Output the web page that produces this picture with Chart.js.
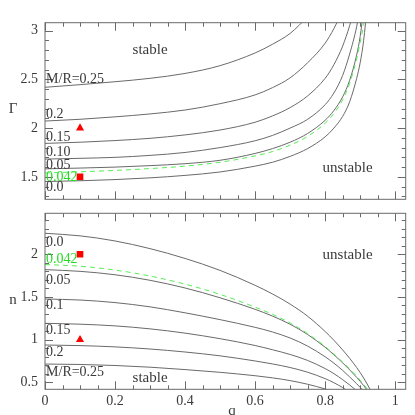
<!DOCTYPE html>
<html>
<head>
<meta charset="utf-8">
<script src="https://cdn.jsdelivr.net/npm/chart.js@4/dist/chart.umd.min.js"></script>
<style>
html, body { margin: 0; padding: 0; background: #fff; }
#wrap { position: relative; width: 415px; height: 415px; }
#wrap canvas { position: absolute; left: 0; }
#top { top: 0; }
#bot { top: 207px; }
</style>
</head>
<body>
<div id="wrap">
  <canvas id="top" width="415" height="207"></canvas>
  <canvas id="bot" width="415" height="208"></canvas>
</div>
<script>
// q values shared by every curve
var qGrid = [0, 0.1, 0.2, 0.3, 0.4, 0.5, 0.6, 0.65, 0.7, 0.75, 0.8, 0.825, 0.85, 0.87, 0.89, 0.9, 0.91, 0.92, 0.93, 0.94];

// upper panel: Gamma(q) for each M/R
var gamma00  = [1.452, 1.46, 1.472, 1.49, 1.515, 1.55, 1.61, 1.65, 1.71, 1.79, 1.91, 2.0, 2.12, 2.27, 2.51, 2.67, 2.90, 3.25, null, null];
var gamma042 = [1.540, 1.552, 1.566, 1.585, 1.61, 1.65, 1.715, 1.76, 1.825, 1.915, 2.05, 2.15, 2.29, 2.46, 2.71, 2.88, 3.06, 3.30, null, null];
var gamma05  = [1.582, 1.59, 1.60, 1.615, 1.635, 1.67, 1.74, 1.79, 1.855, 1.945, 2.08, 2.18, 2.32, 2.49, 2.75, 2.94, 3.22, null, null, null];
var gamma10  = [1.682, 1.69, 1.70, 1.72, 1.75, 1.80, 1.87, 1.925, 2.0, 2.09, 2.24, 2.36, 2.54, 2.76, 3.04, 3.25, null, null, null, null];
var gamma15  = [1.843, 1.855, 1.872, 1.895, 1.93, 1.98, 2.06, 2.125, 2.21, 2.33, 2.51, 2.65, 2.84, 3.05, 3.30, null, null, null, null, null];
var gamma20  = [2.072, 2.09, 2.115, 2.145, 2.185, 2.25, 2.34, 2.415, 2.515, 2.67, 2.87, 3.02, 3.20, null, null, null, null, null, null, null];
var gamma25  = [2.418, 2.445, 2.475, 2.51, 2.56, 2.64, 2.77, 2.86, 2.97, 3.14, null, null, null, null, null, null, null, null, null, null];

// lower panel: n(q) for each M/R
var n00  = [2.246, 2.216, 2.156, 2.066, 1.951, 1.811, 1.636, 1.534, 1.416, 1.274, 1.095, 0.992, 0.879, 0.781, 0.673, 0.614, 0.550, 0.480, 0.404, 0.320];
var n042 = [1.88, 1.86, 1.815, 1.745, 1.65, 1.53, 1.38, 1.295, 1.195, 1.07, 0.92, 0.83, 0.737, 0.657, 0.571, 0.525, 0.476, 0.424, 0.369, 0.31];
var n05  = [1.82, 1.80, 1.76, 1.695, 1.605, 1.49, 1.355, 1.275, 1.18, 1.06, 0.91, 0.823, 0.728, 0.646, 0.558, 0.511, 0.461, 0.408, 0.352, null];
var n10  = [1.476, 1.464, 1.434, 1.384, 1.314, 1.234, 1.144, 1.089, 1.019, 0.924, 0.799, 0.724, 0.639, 0.563, 0.483, 0.44, 0.394, 0.345, null, null];
var n15  = [1.191, 1.181, 1.161, 1.126, 1.076, 1.011, 0.931, 0.881, 0.826, 0.756, 0.661, 0.601, 0.531, 0.469, 0.401, 0.364, null, null, null, null];
var n20  = [0.937, 0.930, 0.915, 0.89, 0.855, 0.81, 0.75, 0.715, 0.673, 0.618, 0.543, 0.495, 0.438, 0.384, null, null, null, null, null, null];
var n25  = [0.714, 0.709, 0.697, 0.677, 0.649, 0.617, 0.577, 0.552, 0.52, 0.477, 0.422, 0.388, null, null, null, null, null, null, null, null];

var topNames = ['0.0', '0.042', '0.05', '0.10', '0.15', '0.2', 'M/R=0.25'];
var botNames = ['0.0', '0.042', '0.05', '0.1', '0.15', '0.2', 'M/R=0.25'];

// the two red models
var markerQ = [0.1, 0.1];
var triangleGamma = 2.0, squareGamma = 1.5;
var triangleN = 1.0, squareN = 2.0;

var GRAY = '#6a6a6a';
var GREEN = '#55ee55';
var TXT = '#3a3a3a';
var SERIF = '"Liberation Serif", "DejaVu Serif", serif';

function pts(arr) {
    return qGrid.map(function(q, i){ return {x: q, y: arr[i]}; });
}

function curveSet(arr, name) {
    var green = name == '0.042';
    return {
        type: 'line', label: name, data: pts(arr),
        borderColor: green ? GREEN : GRAY, borderWidth: 1,
        borderDash: green ? [5, 4] : [],
        pointRadius: 0, cubicInterpolationMode: 'monotone', spanGaps: false
    };
}

function markerSet(x, y, style) {
    return {
        type: 'scatter', label: style, data: [{x: x, y: y}],
        pointStyle: style, pointRadius: 4.7, pointHoverRadius: 4.7,
        backgroundColor: '#ff0000', borderColor: '#ff0000', borderWidth: 0
    };
}

function isMult(v, step) {
    var r = v / step;
    return Math.abs(r - Math.round(r)) < 1e-6;
}

// frame with inward ticks on all four sides, taken from the scales
var frameTicks = {
    id: 'frameTicks',
    afterDraw: function(chart) {
        var ctx = chart.ctx, a = chart.chartArea;
        var xs = chart.scales.x, ys = chart.scales.y;
        ctx.save();
        ctx.strokeStyle = GRAY;
        ctx.lineWidth = 1;
        ctx.strokeRect(a.left, a.top, a.right - a.left, a.bottom - a.top);
        ctx.beginPath();
        xs.ticks.forEach(function(t){
            var px = Math.round(xs.getPixelForValue(t.value)) + 0.5;
            var len = isMult(t.value, 0.2) ? 8 : 4;
            ctx.moveTo(px, a.bottom); ctx.lineTo(px, a.bottom - len);
            ctx.moveTo(px, a.top); ctx.lineTo(px, a.top + len);
        });
        ys.ticks.forEach(function(t){
            var py = Math.round(ys.getPixelForValue(t.value)) + 0.5;
            var len = isMult(t.value, 0.5) ? 8 : 4;
            ctx.moveTo(a.left, py); ctx.lineTo(a.left + len, py);
            ctx.moveTo(a.right, py); ctx.lineTo(a.right - len, py);
        });
        ctx.stroke();
        ctx.restore();
    }
};

// free text: axis titles, region names and curve labels
var notes = {
    id: 'notes',
    afterDraw: function(chart) {
        var ctx = chart.ctx, o = chart.options.plugins.notes;
        var xs = chart.scales.x, ys = chart.scales.y;
        ctx.save();
        ctx.textBaseline = 'middle';
        o.items.forEach(function(it){
            ctx.font = (it.size || 14) + 'px ' + SERIF;
            ctx.fillStyle = it.color || TXT;
            ctx.textAlign = it.align || 'center';
            var x = it.px != null ? it.px : xs.getPixelForValue(it.q);
            var y = it.py != null ? it.py : ys.getPixelForValue(it.v);
            ctx.fillText(it.text, x, y);
        });
        ctx.restore();
    }
};

function noPad(s) {
    s.paddingTop = 0; s.paddingBottom = 0; s.paddingLeft = 0; s.paddingRight = 0;
}

function scales(yMin, yMax, showX, xHeight) {
    return {
        x: {
            type: 'linear', min: 0, max: 1.03,
            grid: { display: false, drawTicks: false },
            border: { display: false },
            ticks: {
                stepSize: 0.05, includeBounds: false, autoSkip: false, maxRotation: 0,
                padding: 4, color: TXT, font: { family: SERIF, size: 14 },
                callback: function(v){ return showX && isMult(v, 0.2) ? String(Math.round(v * 10) / 10) : ''; }
            },
            afterFit: function(s){ s.height = xHeight; noPad(s); }
        },
        y: {
            type: 'linear', min: yMin, max: yMax,
            grid: { display: false, drawTicks: false },
            border: { display: false },
            ticks: {
                stepSize: 0.1, includeBounds: false, autoSkip: false,
                padding: 7, color: TXT, font: { family: SERIF, size: 14 },
                callback: function(v){ return isMult(v, 0.5) ? String(Math.round(v * 10) / 10) : ''; }
            },
            afterFit: function(s){ s.width = 45; noPad(s); }
        }
    };
}

var labelGamma = [1.397, 1.5, 1.623, 1.751, 1.908, 2.143, 2.50];
var topNotes = [
    { text: 'Γ', px: 13, py: 109, size: 15 },
    { text: 'stable', q: 0.3, v: 2.795, size: 15 },
    { text: 'unstable', q: 0.864, v: 1.591, size: 15 }
];
topNames.forEach(function(nm, i){
    topNotes.push({ text: nm, q: 0.003, v: labelGamma[i], align: 'left', color: nm == '0.042' ? '#22dd22' : TXT });
});

var labelN = [2.141, 1.945, 1.699, 1.402, 1.105, 0.852, 0.612];
var botNotes = [
    { text: 'n', px: 13, py: 93, size: 15 },
    { text: 'q', px: 232, py: 203.7, size: 15 },
    { text: 'unstable', q: 0.864, v: 1.99, size: 15 },
    { text: 'stable', q: 0.3, v: 0.554, size: 15 }
];
botNames.forEach(function(nm, i){
    botNotes.push({ text: nm, q: 0.003, v: labelN[i], align: 'left', color: nm == '0.042' ? '#22dd22' : TXT });
});

var topSets = [gamma00, gamma042, gamma05, gamma10, gamma15, gamma20, gamma25].map(function(a, i){ return curveSet(a, topNames[i]); });
topSets.push(markerSet(markerQ[0], triangleGamma, 'triangle'));
topSets.push(markerSet(markerQ[1], squareGamma, 'rect'));

var botSets = [n00, n042, n05, n10, n15, n20, n25].map(function(a, i){ return curveSet(a, botNames[i]); });
botSets.push(markerSet(markerQ[0], triangleN, 'triangle'));
botSets.push(markerSet(markerQ[1], squareN, 'rect'));

var common = {
    responsive: false, animation: false, events: [],
    plugins: { legend: { display: false }, tooltip: { enabled: false } }
};

new Chart(document.getElementById('top'), {
    type: 'line',
    data: { datasets: topSets },
    options: Object.assign({}, common, {
        layout: { padding: { left: 0, top: 22.7, right: 9.3, bottom: 0 } },
        scales: scales(1.27, 3.08, false, 7.7),
        plugins: { legend: { display: false }, tooltip: { enabled: false }, notes: { items: topNotes } }
    }),
    plugins: [frameTicks, notes]
});

new Chart(document.getElementById('bot'), {
    type: 'line',
    data: { datasets: botSets },
    options: Object.assign({}, common, {
        layout: { padding: { left: 0, top: 6.3, right: 9.3, bottom: 0 } },
        scales: scales(0.418, 2.48, true, 25.7),
        plugins: { legend: { display: false }, tooltip: { enabled: false }, notes: { items: botNotes } }
    }),
    plugins: [frameTicks, notes]
});
</script>
</body>
</html>
